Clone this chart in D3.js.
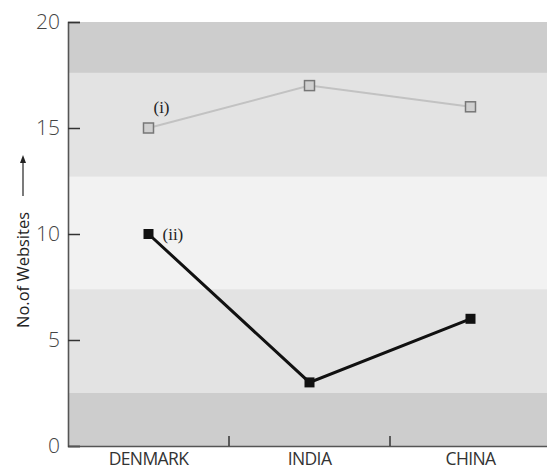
<!DOCTYPE html>
<html><head><meta charset="utf-8">
<script src="https://cdn.jsdelivr.net/npm/d3@7"></script>
<style>body{margin:0;background:#fff}svg{display:block}</style>
</head><body>
<script>
const categories = ["DENMARK", "INDIA", "CHINA"];
const seriesI = [15, 17, 16];
const seriesII = [10, 3, 6];
const yTicks = [0, 5, 10, 15, 20];
const bandEdges = [0, 2.5, 7.4, 12.7, 17.6, 20];
const bandShades = ["#cdcdcd", "#e3e3e3", "#f2f2f2", "#e3e3e3", "#cdcdcd"];

const W = 547, H = 471;
const svg = d3.select("body").append("svg").attr("width", W).attr("height", H);
const x = d3.scaleBand().domain(categories).range([68, 551]).padding(0);
const y = d3.scaleLinear().domain([0, 20]).range([446, 22]);

// background bands
svg.selectAll("rect.band").data(d3.range(bandShades.length)).enter().append("rect")
  .attr("x", 68).attr("width", 551 - 68)
  .attr("y", i => y(bandEdges[i + 1])).attr("height", i => y(bandEdges[i]) - y(bandEdges[i + 1]))
  .attr("fill", i => bandShades[i]);

// axes
const yAxis = d3.axisLeft(y).tickValues(yTicks).tickSize(-12).tickPadding(8);
const gy = svg.append("g").attr("transform", "translate(68,0)").call(yAxis);
gy.select(".domain").attr("stroke", "#555").attr("stroke-width", 1.6);
gy.selectAll(".tick line").attr("stroke", "#333").attr("stroke-width", 1.5);
gy.selectAll(".tick text").attr("font-family", "Open Sans, sans-serif").attr("font-size", 21).attr("fill", "#444").attr("font-weight", 300);

const xAxis = d3.axisBottom(x).tickSize(0).tickPadding(7);
const gx = svg.append("g").attr("transform", "translate(0,446)").call(xAxis);
gx.select(".domain").attr("stroke", "#555").attr("stroke-width", 1.6);
gx.selectAll(".tick text").attr("font-family", "Open Sans, sans-serif").attr("font-size", 17.5)
  .attr("letter-spacing", -0.6).attr("fill", "#333");
// separator ticks between categories
svg.selectAll("line.sep").data(categories.slice(1)).enter().append("line")
  .attr("x1", d => x(d)).attr("x2", d => x(d)).attr("y1", 446).attr("y2", 436)
  .attr("stroke", "#333").attr("stroke-width", 1.5);

// y label
svg.append("text").attr("transform", "translate(29,270) rotate(-90)")
  .attr("font-family", "Open Sans, sans-serif").attr("font-size", 16.5).attr("fill", "#222")
  .attr("text-anchor", "middle").text("No.of Websites");
svg.append("line").attr("x1", 23).attr("x2", 23).attr("y1", 196).attr("y2", 161)
  .attr("stroke", "#222").attr("stroke-width", 1.2);
svg.append("path").attr("d", "M23,155 L20,163 L26,163 Z").attr("fill", "#222");

const line = d3.line().x((d, i) => x(categories[i]) + x.bandwidth() / 2).y(d => y(d));

svg.append("path").datum(seriesI).attr("d", line).attr("fill", "none").attr("stroke", "#c2c2c2").attr("stroke-width", 2);
svg.selectAll("rect.p1").data(seriesI).enter().append("rect")
  .attr("x", (d, i) => x(categories[i]) + x.bandwidth() / 2 - 5).attr("y", d => y(d) - 5)
  .attr("width", 10).attr("height", 10).attr("fill", "#d0d0d0").attr("stroke", "#777").attr("stroke-width", 1.5);

svg.append("path").datum(seriesII).attr("d", line).attr("fill", "none").attr("stroke", "#111").attr("stroke-width", 3);
svg.selectAll("rect.p2").data(seriesII).enter().append("rect")
  .attr("x", (d, i) => x(categories[i]) + x.bandwidth() / 2 - 5).attr("y", d => y(d) - 5)
  .attr("width", 10).attr("height", 10).attr("fill", "#111");

svg.append("text").attr("x", x(categories[0]) + x.bandwidth() / 2 + 13).attr("y", y(seriesI[0]) - 15)
  .attr("text-anchor", "middle").attr("font-family", "Liberation Serif, serif").attr("font-size", 17).attr("fill", "#222").text("(i)");
svg.append("text").attr("x", x(categories[0]) + x.bandwidth() / 2 + 14).attr("y", y(seriesII[0]) + 6)
  .attr("font-family", "Liberation Serif, serif").attr("font-size", 17).attr("fill", "#222").text("(ii)");
</script>
</body></html>
